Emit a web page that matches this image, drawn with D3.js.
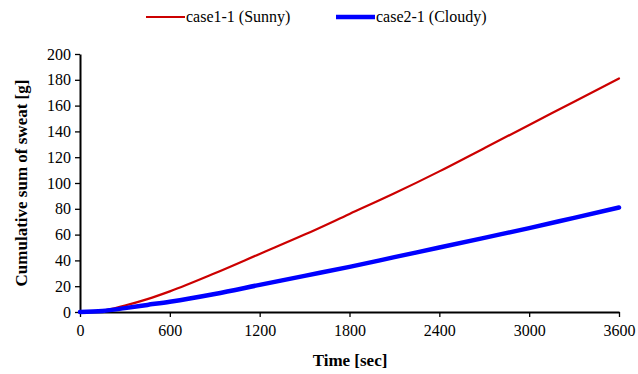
<!DOCTYPE html>
<html><head><meta charset="utf-8">
<script src="https://cdn.jsdelivr.net/npm/d3@7"></script>
</head><body style="margin:0"><svg id="c" width="638" height="374"></svg>
<script>
const times = [0,150,300,450,600,900,1200,1500,1800,2100,2400,2700,3000,3300,3600];
const sunny = [0,1,5,10,16,30,45,60,76,92,109,127,145,163,181];
const cloudy = [0,0.8,3,5.5,8,14,21,28,35,42.5,50,57.5,65,73,81];
const xTicks = [0,600,1200,1800,2400,3000,3600];
const yTicks = [0,20,40,60,80,100,120,140,160,180,200];
const seriesNames = ["case1-1 (Sunny)","case2-1 (Cloudy)"];
const colors = ["#cc0000","#0000ff"];
const widths = [2.2,4.5];
const fontStyle = (size, bold) =>
  `font-family:'Liberation Serif','Times New Roman',serif !important;font-size:${size}px !important;` +
  (bold ? "font-weight:bold !important;" : "");

const svg = d3.select("#c");
const x = d3.scaleLinear().domain([0,3600]).range([80,619]);
const y = d3.scaleLinear().domain([0,200]).range([312,54]);

const xa = svg.append("g").attr("transform","translate(0,312)")
  .call(d3.axisBottom(x).tickValues(xTicks).tickFormat(d3.format("d")).tickSize(5).tickPadding(5).tickSizeOuter(0));
const ya = svg.append("g").attr("transform","translate(80,0)")
  .call(d3.axisLeft(y).tickValues(yTicks).tickFormat(d3.format("d")).tickSize(5).tickPadding(4).tickSizeOuter(0));
[xa,ya].forEach(a=>{
  a.attr("font-family","Liberation Serif").attr("font-size",16);
  a.select(".domain").attr("stroke","#000").attr("stroke-width",2);
  a.selectAll(".tick line").attr("stroke","#000").attr("stroke-width",1.3);
  a.selectAll("text").attr("fill","#000").attr("style",fontStyle(16,false));
});
xa.selectAll("text").attr("dy","0.9em");

const line = d3.line().x(d=>x(d[0])).y(d=>y(d[1])).curve(d3.curveMonotoneX);
[sunny,cloudy].forEach((s,i)=>{
  svg.append("path").datum(times.map((t,j)=>[t,s[j]]))
    .attr("fill","none").attr("stroke",colors[i]).attr("stroke-width",widths[i])
    .attr("stroke-linecap","round").attr("d",line);
});

svg.append("text").attr("x",350).attr("y",366).attr("text-anchor","middle")
  .attr("font-family","Liberation Serif").attr("font-size",17).attr("font-weight","bold")
  .attr("style",fontStyle(17,true)).text("Time [sec]");
svg.append("text").attr("transform","translate(27,183) rotate(-90)").attr("text-anchor","middle")
  .attr("font-family","Liberation Serif").attr("font-size",17).attr("font-weight","bold")
  .attr("style",fontStyle(17,true)).text("Cumulative sum of sweat [g]");

const lx = [146,336];
seriesNames.forEach((n,i)=>{
  svg.append("line").attr("x1",lx[i]).attr("x2",lx[i]+39).attr("y1",17).attr("y2",17)
    .attr("stroke",colors[i]).attr("stroke-width",widths[i]);
  svg.append("text").attr("x",lx[i]+40).attr("y",22).attr("font-family","Liberation Serif").attr("font-size",16)
    .attr("style",fontStyle(16,false)).text(n);
});
</script></body></html>
